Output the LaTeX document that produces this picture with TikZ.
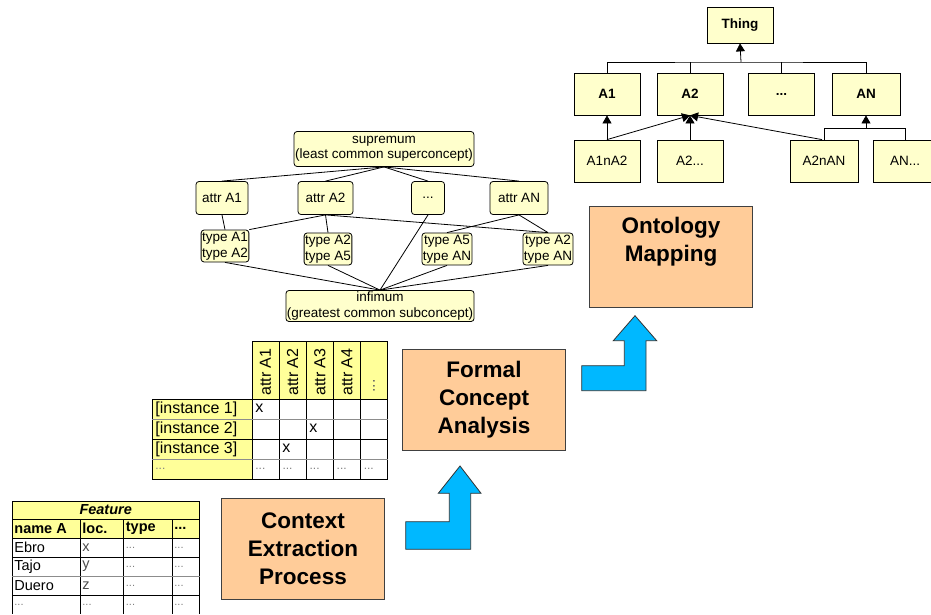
\documentclass[tikz,border=0pt]{standalone}
\usepackage{fontspec}
\setmainfont{Liberation Sans}
\usetikzlibrary{arrows.meta}
\definecolor{paleyellow}{HTML}{FFFFCC}
\definecolor{headyellow}{HTML}{FFFF99}
\definecolor{peach}{HTML}{FFCC99}
\definecolor{skyblue}{HTML}{00B8FF}
\newcommand{\tdots}{...}

\begin{document}
\begin{tikzpicture}[x=1pt,y=-1pt,line width=0.8pt,
  concept/.style={draw, fill=paleyellow, rounded corners=3pt, inner sep=1pt,
    align=center, font=\fontsize{13.5}{15.5}\selectfont},
  class/.style={draw, fill=paleyellow, minimum width=66pt, minimum height=42pt,
    font=\fontsize{13.5}{16}\selectfont},
  process/.style={draw=black!75, fill=peach, minimum width=163pt, minimum height=101pt,
    align=center, font=\fontsize{22.5}{28}\selectfont\bfseries},
  proctext/.style={align=center, font=\fontsize{22.5}{28}\selectfont\bfseries},
  bigarrow/.style={draw=black!80, fill=skyblue},
  arr/.style={-{Triangle[length=8pt,width=9pt]}},
  cell/.style={font=\fontsize{16}{18}\selectfont, anchor=west, inner sep=0pt},
  ftext/.style={font=\fontsize{14.5}{16}\selectfont, anchor=west, inner sep=0pt}]
  \useasboundingbox (0,0) rectangle (931,614);

  % ontology hierarchy
  \node[class, minimum height=36pt, font=\fontsize{13.5}{16}\selectfont\bfseries] (thing) at (740,25) {Thing};
  \node[class, font=\fontsize{13.5}{16}\selectfont\bfseries] (a1) at (607,94) {A1};
  \node[class, font=\fontsize{13.5}{16}\selectfont\bfseries] (a2) at (690,94) {A2};
  \node[class, font=\fontsize{13.5}{16}\selectfont\bfseries] (adots) at (781.5,94) {\tdots};
  \node[class, minimum width=68pt, font=\fontsize{13.5}{16}\selectfont\bfseries] (an) at (866,94) {AN};
  \node[class] (a1na2) at (607,161) {A1nA2};
  \node[class] (a2x) at (690,161) {A2\tdots};
  \node[class, minimum width=68pt] (a2nan) at (824,161) {A2nAN};
  \node[class, minimum width=64pt] (anx) at (905,161) {AN\tdots};

  \coordinate (tbus) at (741,62);
  \draw (a1.north) |- (tbus) -| (an.north);
  \draw (a2.north) -- (a2.north |- tbus);
  \draw (adots.north) -- (adots.north |- tbus);
  \draw[arr] (tbus) -- (thing.south);
  \draw[arr] (a1na2.north) -- (a1.south);
  \draw[arr] (a1na2.north) -- (a2.south);
  \draw[arr] (a2x.north) -- (a2.south);
  \draw[arr] ([xshift=-2pt]a2nan.north) -- (a2.south);
  \coordinate (anbus) at (866,128.5);
  \draw (a2nan.north) |- (anbus) -| (anx.north);
  \draw[arr] (anbus) -- (an.south);

  % concept lattice
  \node[concept, minimum width=177pt, minimum height=35pt] (sup) at (384,149) {supremum\\(least common superconcept)};
  \node[concept, minimum width=52pt, minimum height=33pt] (at1) at (222,198) {attr A1};
  \node[concept, minimum width=55pt, minimum height=33pt] (at2) at (325.5,198) {attr A2};
  \node[concept, minimum width=33pt, minimum height=33pt] (atdots) at (428,198) {\tdots};
  \node[concept, minimum width=58pt, minimum height=33pt] (atn) at (519,198) {attr AN};
  \node[concept, minimum height=32pt] (ty1) at (225,246) {type A1\\type A2};
  \node[concept, minimum height=32pt] (ty2) at (328,249) {type A2\\type A5};
  \node[concept, minimum height=32pt] (ty3) at (447,249) {type A5\\type AN};
  \node[concept, minimum height=32pt] (ty4) at (548,249) {type A2\\type AN};
  \node[concept, minimum width=185pt, minimum height=31pt] (inf) at (380,306) {infimum\\(greatest common subconcept)};

  \foreach \n in {at1,at2,atdots,atn}
    \draw (sup.south) -- (\n.north);
  \draw (at1.south) -- (ty1.north);
  \draw (at2.south) -- (ty1.north east);
  \draw (at2.south) -- (ty2.north);
  \draw (at2.south) -- (ty4.north);
  \draw (atn.south) -- (ty3.north);
  \draw (atn.south) -- (ty4.north);
  \draw (atdots.south) -- (inf.north);
  \foreach \n in {ty1,ty2,ty3,ty4}
    \draw (\n.south) -- (inf.north);

  % formal context
  \fill[headyellow] (252,341) rectangle (387.5,399);
  \fill[headyellow] (152,399) rectangle (252,479);
  \draw (252,341) -- (387.5,341);
  \foreach \k in {0,1,2,3,4,5}
    \draw (252+27.1*\k,341) -- (252+27.1*\k,479);
  \draw (152,399) -- (152,479);
  \foreach \y/\c in {399/black,419/black!45,439/black,459/black!45,479/black}
    \draw[\c] (152,\y) -- (387.5,\y);
  \foreach \t [count=\i] in {attr A1,attr A2,attr A3,attr A4}
    \node[cell, rotate=90] (hd\i) at (238.45+27.1*\i,396) {\t};
  \node[cell, rotate=90, text=black!60] (hd5) at (374,393) {\tdots};
  \foreach \t [count=\i] in {{[instance 1]},{[instance 2]},{[instance 3]}}
    \node[cell] (inst\i) at (155,389+20*\i) {\t};
  \node[cell, text=black!50, font=\fontsize{12}{14}\selectfont] (inst4) at (155,469) {\tdots};
  \node[cell] (x1) at (255,408) {x};
  \node[cell] (x2) at (309,428) {x};
  \node[cell] (x3) at (282,448) {x};
  \foreach \k in {0,1,2,3,4}
    \node[cell, text=black!50, font=\fontsize{12}{14}\selectfont] (dd\k) at (255+27.1*\k,469) {\tdots};

  % feature table
  \fill[headyellow] (12,501) rectangle (199.5,538);
  \draw (12,501) -- (199.5,501);
  \draw (12,501) -- (12,614);
  \draw (199.5,501) -- (199.5,614);
  \foreach \x in {80,123.5,172}
    \draw (\x,519) -- (\x,614);
  \foreach \y/\c in {519/black,538/black,557/black,576/black!45,595/black}
    \draw[\c] (12,\y) -- (199.5,\y);
  \node[ftext, anchor=center, font=\fontsize{14.5}{16}\selectfont\bfseries\itshape] (ftitle) at (105.7,510) {Feature};
  \foreach \t/\x [count=\i] in {name A/14,loc./82,type/125.5,\tdots/174}
    \node[ftext, font=\fontsize{14.5}{16}\selectfont\bfseries] (fh\i) at (\x,528.5) {\t};
  \foreach \n/\l [count=\i] in {Ebro/x,Tajo/y,Duero/z}
  {
    \node[ftext] (fn\i) at (14,528.5+19*\i) {\n};
    \node[ftext, text=black!70] (fl\i) at (82,528.5+19*\i) {\l};
    \node[ftext, text=black!50, font=\fontsize{11}{13}\selectfont] (ft\i) at (125.5,528.5+19*\i) {\tdots};
    \node[ftext, text=black!50, font=\fontsize{11}{13}\selectfont] (fd\i) at (174,528.5+19*\i) {\tdots};
  }
  \foreach \x [count=\i] in {14,82,125.5,174}
    \node[ftext, text=black!50, font=\fontsize{11}{13}\selectfont] (fe\i) at (\x,605) {\tdots};

  % process steps
  \node[process] (cep) at (303,549) {Context\\Extraction\\Process};
  \node[process] (fca) at (484,399.5) {Formal\\Concept\\Analysis};
  \node[process] (om) at (671,257) {};
  \node[proctext] (omtext) at (671,242) {Ontology\\Mapping};

  % bent arrows
  \draw[bigarrow] (405.7,549.3) -- (405.7,521.7) -- (449.3,521.7) -- (449.3,493.3)
    -- (438.3,493.3) -- (460,466) -- (481,493.3) -- (470.7,493.3) -- (470.7,549.3) -- cycle;
  \draw[bigarrow] (581.7,390.7) -- (581.7,365.7) -- (624.3,365.7) -- (624.3,340.7)
    -- (613.3,340.7) -- (635,315.7) -- (656.7,340.7) -- (646,340.7) -- (646,390.7) -- cycle;
\end{tikzpicture}
\end{document}
